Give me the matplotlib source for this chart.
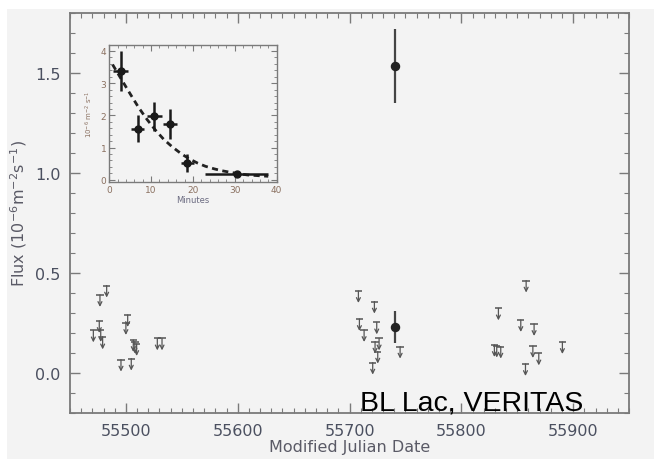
import matplotlib
matplotlib.use("Agg")
import matplotlib.pyplot as plt
from matplotlib.patches import Rectangle
from matplotlib.ticker import MultipleLocator

# Upper limits on the flux (MJD, 1e-6 m^-2 s^-1)
ul_mjd = [55482.8, 55476.8, 55476.2, 55470.9, 55477.5, 55479.2, 55501.6, 55500.0,
          55506.6, 55508.0, 55509.6, 55495.6, 55504.8, 55528.1, 55532.3,
          55707.9, 55722.2, 55708.8, 55713.0, 55724.3, 55726.4, 55722.8, 55725.2,
          55720.7, 55745.2,
          55857.9, 55833.1, 55853.1, 55865.0, 55829.5, 55831.6, 55835.2, 55863.9,
          55869.2, 55857.3, 55890.3]
ul_flux = [0.437, 0.390, 0.260, 0.213, 0.215, 0.178, 0.290, 0.250,
           0.165, 0.157, 0.145, 0.067, 0.072, 0.173, 0.173,
           0.410, 0.357, 0.270, 0.215, 0.253, 0.173, 0.157, 0.107,
           0.052, 0.132,
           0.462, 0.323, 0.265, 0.245, 0.140, 0.137, 0.132, 0.135,
           0.098, 0.045, 0.155]

# Detections
det_mjd = [55740.7, 55741.0]
det_flux = [1.535, 0.230]
det_err = [0.185, 0.080]

# Flare zoom (minutes after start, 1e-6 m^-2 s^-1)
fl_t = [2.8, 6.8, 10.8, 14.6, 18.7, 30.5]
fl_terr = [1.8, 1.5, 1.7, 1.7, 1.6, 7.5]
fl_flux = [3.37, 1.59, 1.97, 1.73, 0.52, 0.19]
fl_ferr = [0.62, 0.42, 0.45, 0.47, 0.28, 0.04]

# exponential decay fit
fit_t = [0.8, 3.0, 5.0, 7.0, 9.0, 11.0, 13.0, 15.0, 17.1, 19.0, 21.1, 23.0,
         25.1, 27.0, 29.1, 31.0, 33.1, 35.5, 38.0]
fit_flux = [3.58, 3.10, 2.67, 2.25, 1.88, 1.55, 1.26, 1.03, 0.82, 0.66, 0.52, 0.42,
            0.34, 0.28, 0.23, 0.19, 0.15, 0.13, 0.11]

BG = '#f3f3f3'
TICK_COL = '#4b5060'
SPINE_COL = '#7a7a7a'
UL_COL = '#555555'
BAR_HALF = 3.3     # half width of the limit bar, in days
ARROW_LEN = 0.06   # arrow length, in flux units

fig = plt.figure(figsize=(6.54, 4.6), dpi=100, facecolor=BG)
fig.patches.append(Rectangle((0, 1 - 10 / 460), 1, 10 / 460, transform=fig.transFigure,
                             facecolor='white', edgecolor='none', zorder=-1))
fig.patches.append(Rectangle((0, 0), 7 / 654, 1, transform=fig.transFigure,
                             facecolor='white', edgecolor='none', zorder=-1))

ax = fig.add_axes([0.107, 0.100, 0.855, 0.870], facecolor=BG)
ax.set_xlim(55450, 55950)
ax.set_ylim(-0.2, 1.8)

# upper limits: bar on top, arrow pointing down
for x, y in zip(ul_mjd, ul_flux):
    ax.plot([x - BAR_HALF, x + BAR_HALF], [y, y], color=UL_COL, lw=1.1,
            solid_capstyle='butt', zorder=3)
    ax.annotate('', xy=(x, y - ARROW_LEN), xytext=(x, y),
                arrowprops=dict(arrowstyle='->', color=UL_COL, lw=0.9,
                                mutation_scale=7, shrinkA=0, shrinkB=0))

ax.errorbar(det_mjd, det_flux, yerr=det_err, fmt='o', ms=5.8, color='#222222',
            ecolor='#444444', elinewidth=1.6, capsize=0, zorder=4)

ax.text(55709, -0.185, 'BL Lac, VERITAS', fontsize=20.5, family='Liberation Sans',
        color='black', va='baseline', ha='left')

ax.set_xlabel('Modified Julian Date', fontsize=11.5, color='#5a5a66', labelpad=1)
ax.set_ylabel('Flux (10$^{-6}$m$^{-2}$s$^{-1}$)', fontsize=11.5, color='#5a5a66',
              labelpad=4)
ax.xaxis.set_major_locator(MultipleLocator(100))
ax.xaxis.set_minor_locator(MultipleLocator(10))
ax.yaxis.set_major_locator(MultipleLocator(0.5))
ax.yaxis.set_minor_locator(MultipleLocator(0.1))
ax.tick_params(which='both', direction='in', top=True, right=True, color=SPINE_COL,
               labelsize=11.5, labelcolor=TICK_COL)
ax.tick_params(which='major', length=7, width=1.0, pad=7)
ax.tick_params(which='minor', length=3.5, width=0.8)
for s in ax.spines.values():
    s.set_color(SPINE_COL)
    s.set_linewidth(1.3)

# inset: the flare in minutes
ins = fig.add_axes([0.167, 0.602, 0.256, 0.299], facecolor=BG)
ins.set_xlim(0, 40)
ins.set_ylim(-0.07, 4.2)
ins.plot(fit_t, fit_flux, linestyle=(0, (2.2, 1.6)), color='#222222', lw=2.0, zorder=2)
ins.errorbar(fl_t, fl_flux, xerr=fl_terr, yerr=fl_ferr, fmt='o', ms=5, color='#1a1a1a',
             ecolor='#1a1a1a', elinewidth=1.8, capsize=0, zorder=3)
ins.set_xlabel('Minutes', fontsize=6, color='#6a6a80', labelpad=1)
ins.set_ylabel('10$^{-6}$ m$^{-2}$ s$^{-1}$', fontsize=5, color='#8a7060', labelpad=4)
ins.xaxis.set_major_locator(MultipleLocator(10))
ins.xaxis.set_minor_locator(MultipleLocator(2))
ins.yaxis.set_major_locator(MultipleLocator(1))
ins.yaxis.set_minor_locator(MultipleLocator(0.2))
ins.tick_params(which='both', direction='in', top=True, right=True, color=SPINE_COL,
                labelsize=6.5, labelcolor='#8a7060', pad=2)
ins.tick_params(which='major', length=4, width=0.8)
ins.tick_params(which='minor', length=2, width=0.6)
for s in ins.spines.values():
    s.set_color(SPINE_COL)
    s.set_linewidth(1.0)

fig.savefig('out.png', dpi=100, facecolor=BG)
